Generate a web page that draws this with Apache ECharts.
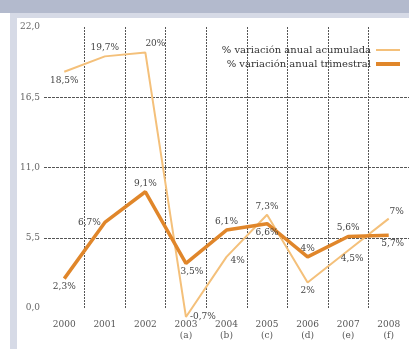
<!DOCTYPE html>
<html>
<head>
<meta charset="utf-8">
<script src="https://cdn.jsdelivr.net/npm/echarts@6/dist/echarts.min.js"></script>
<style>
  html, body { margin: 0; padding: 0; background: #ffffff; }
  #chart { width: 409px; height: 349px; }
</style>
</head>
<body>
<div id="chart"></div>
<script>
// Years on the horizontal axis (second line = footnote letter)
const categories = ['2000', '2001', '2002', '2003\n(a)', '2004\n(b)', '2005\n(c)', '2006\n(d)', '2007\n(e)', '2008\n(f)'];

// Series names
const seriesNames = ['% variación anual acumulada', '% variación anual trimestral'];

// Annual change values, percent
const acumulada = [18.5, 19.7, 20.0, -0.7, 4.0, 7.3, 2.0, 4.5, 7.0];
const trimestral = [2.3, 6.7, 9.1, 3.5, 6.1, 6.6, 4.0, 5.6, 5.7];

// Printed label text for each point
const acumuladaLabels = ['18,5%', '19,7%', '20%', '-0,7%', '4%', '7,3%', '2%', '4,5%', '7%'];
const trimestralLabels = ['2,3%', '6,7%', '9,1%', '3,5%', '6,1%', '6,6%', '4%', '5,6%', '5,7%'];

// Where each label sits relative to its point
const acumuladaPos = ['bottom', 'top', 'top', 'right', 'right', 'top', 'bottom', 'bottom', 'top'];
const trimestralPos = ['bottom', 'left', 'top', 'bottom', 'top', 'bottom', 'top', 'top', 'bottom'];

// Y axis ticks
const yMin = 0, yMax = 22, yStep = 5.5;

const FONT = '"DejaVu Serif", "Liberation Serif", serif';
const LIGHT = '#f4c07a';
const DARK = '#e0862a';
const CLEAR = 'rgba(0,0,0,0)';

function pointData(values, labels, positions, offsets) {
  return values.map((v, i) => ({
    value: v,
    label: {
      formatter: labels[i],
      position: positions[i],
      offset: offsets[i] || [0, 0]
    }
  }));
}

const chart = echarts.init(document.getElementById('chart'), null, { renderer: 'canvas' });

const labelStyle = { show: true, fontFamily: FONT, fontSize: 9, color: '#444', distance: 3 };

// One legend per series so both swatches line up at the right edge
function legendFor(name, top, thickness, color) {
  return {
    right: 4,
    top: top,
    orient: 'horizontal',
    align: 'right',
    itemWidth: 24,
    itemHeight: 8,
    itemGap: 6,
    textStyle: { fontFamily: FONT, fontSize: 10, color: '#333' },
    data: [{
      name: name,
      icon: 'path://M0,0 L24,0 L24,' + thickness + ' L0,' + thickness + ' Z',
      itemStyle: { color: color, opacity: 1 }
    }]
  };
}

chart.setOption({
  animation: false,
  backgroundColor: '#ffffff',
  graphic: [
    { type: 'rect', shape: { x: 0, y: 0, width: 409, height: 13 }, style: { fill: '#b3bacd' }, z: 0 },
    { type: 'rect', shape: { x: 10, y: 13, width: 399, height: 5 }, style: { fill: '#d6dae6' }, z: 0 },
    { type: 'rect', shape: { x: 10, y: 13, width: 7, height: 336 }, style: { fill: '#d6dae6' }, z: 0 }
  ],
  grid: { left: 44, right: 0, top: 27, bottom: 41, containLabel: false },
  legend: [legendFor(seriesNames[0], 40, 2, LIGHT), legendFor(seriesNames[1], 54, 4, DARK)],
  xAxis: {
    type: 'category',
    data: categories,
    boundaryGap: true,
    axisLine: { show: false },
    axisTick: { show: false },
    axisLabel: {
      margin: 11,
      fontFamily: FONT,
      fontSize: 9,
      lineHeight: 11,
      color: '#555'
    },
    splitLine: {
      show: true,
      showMinLine: false,
      showMaxLine: false,
      lineStyle: { color: '#555', type: [2, 1], width: 1 }
    }
  },
  yAxis: {
    type: 'value',
    min: yMin,
    max: yMax,
    interval: yStep,
    axisLine: { show: false },
    axisTick: { show: false },
    axisLabel: {
      margin: 4,
      fontFamily: FONT,
      fontSize: 9,
      color: '#666',
      formatter: v => v.toFixed(1).replace('.', ',')
    },
    splitLine: {
      show: true,
      showMinLine: false,
      showMaxLine: false,
      lineStyle: { color: '#555', type: [3, 1], width: 1 }
    }
  },
  series: [
    {
      name: seriesNames[0],
      type: 'line',
      clip: false,
      symbol: 'circle',
      symbolSize: 2,
      showSymbol: true,
      itemStyle: { color: CLEAR, borderWidth: 0 },
      color: LIGHT,
      lineStyle: { color: LIGHT, width: 2 },
      label: labelStyle,
      data: pointData(acumulada, acumuladaLabels, acumuladaPos, [[0, 0], [0, 0], [10, 0], [0, 0], [0, 4], [0, 0], [0, 0], [4, 0], [8, 2]]),
      z: 3
    },
    {
      name: seriesNames[1],
      type: 'line',
      clip: false,
      symbol: 'circle',
      symbolSize: 2,
      showSymbol: true,
      itemStyle: { color: CLEAR, borderWidth: 0 },
      color: DARK,
      lineStyle: { color: DARK, width: 3.5 },
      label: labelStyle,
      data: pointData(trimestral, trimestralLabels, trimestralPos, [[0, 0], [0, 0], [0, 0], [6, 0], [0, 0], [0, 0], [0, 0], [0, 0], [4, 0]]),
      z: 4
    }
  ]
});
</script>
</body>
</html>
